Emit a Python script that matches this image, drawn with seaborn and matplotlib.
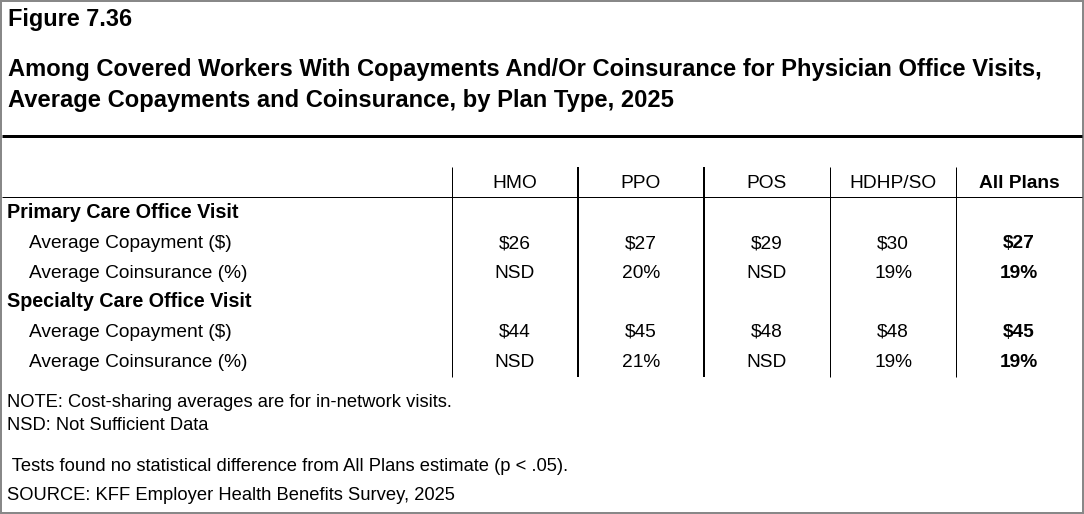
import matplotlib
matplotlib.use("Agg")
import matplotlib.pyplot as plt
from matplotlib.patches import Rectangle
import seaborn as sns
import pandas as pd

# ---- data ----
plan_types = ["HMO", "PPO", "POS", "HDHP/SO", "All Plans"]
sections = ["Primary Care Office Visit", "Specialty Care Office Visit"]
measures = ["Average Copayment ($)", "Average Coinsurance (%)"]
primary_copay = [26, 27, 29, 30, 27]
primary_coins = [None, 20, None, 19, 19]
specialty_copay = [44, 45, 48, 48, 45]
specialty_coins = [None, 21, None, 19, 19]

fig_label = "Figure 7.36"
title_lines = [
    "Among Covered Workers With Copayments And/Or Coinsurance for Physician Office Visits,",
    "Average Copayments and Coinsurance, by Plan Type, 2025",
]
notes = [
    "NOTE: Cost-sharing averages are for in-network visits.",
    "NSD: Not Sufficient Data",
    " Tests found no statistical difference from All Plans estimate (p < .05).",
    "SOURCE: KFF Employer Health Benefits Survey, 2025",
]


def fmt_copay(v):
    return "NSD" if v is None else f"${v}"


def fmt_coins(v):
    return "NSD" if v is None else f"{v}%"


rows = []
for sec, copay, coins in [(sections[0], primary_copay, primary_coins),
                          (sections[1], specialty_copay, specialty_coins)]:
    rows.append({"label": sec, "kind": "section", "vals": None})
    rows.append({"label": measures[0], "kind": "measure", "vals": [fmt_copay(v) for v in copay]})
    rows.append({"label": measures[1], "kind": "measure", "vals": [fmt_coins(v) for v in coins]})
table = pd.DataFrame(rows)

# ---- style ----
sns.set_theme(style="white")
plt.rcParams["font.family"] = ["Liberation Sans", "DejaVu Sans"]
plt.rcParams["text.color"] = "black"

W, H = 1084, 514
fig = plt.figure(figsize=(W / 100, H / 100), dpi=100)
ax = fig.add_axes([0, 0, 1, 1])
ax.set_xlim(0, W)
ax.set_ylim(H, 0)
ax.axis("off")

px = 0.72  # points per pixel at 100 dpi

# titles
ax.text(8, 26, fig_label, fontsize=16.9, fontweight="bold", va="baseline", ha="left")
ax.text(8, 76, title_lines[0], fontsize=17.1, fontweight="bold", va="baseline", ha="left")
ax.text(8, 107.3, title_lines[1], fontsize=17.1, fontweight="bold", va="baseline", ha="left")

# thick rule
ax.hlines(136, 2, 1082, color="black", lw=3 * px)

# table geometry
col_edges = [452, 578, 704, 830, 956, 1082]
col_centers = [(col_edges[i] + col_edges[i + 1]) / 2 for i in range(len(plan_types))]
header_base = 187.7
row_base = [217.7, 248.0, 278.0, 306.7, 337.0, 367.0]
body_fs = 13.8
section_fs = 14.2

for i, name in enumerate(plan_types):
    ax.text(col_centers[i], header_base, name, fontsize=body_fs, ha="center", va="baseline",
            fontweight="bold" if name == "All Plans" else "normal")

ax.hlines(197.3, 2, 1082, color="black", lw=1 * px)
vwidths = [1, 2, 2, 1, 1]
for x, w in zip(col_edges[:-1], vwidths):
    ax.vlines(x, 167.3, 377.3, color="black", lw=w * px)

for (idx, r), yb in zip(table.iterrows(), row_base):
    if r["kind"] == "section":
        ax.text(7, yb, r["label"], fontsize=section_fs, fontweight="bold", ha="left", va="baseline")
    else:
        ax.text(29.3, yb, r["label"], fontsize=body_fs, ha="left", va="baseline")
        for i, v in enumerate(r["vals"]):
            ax.text(col_centers[i], yb, v, fontsize=body_fs, ha="center", va="baseline",
                    fontweight="bold" if plan_types[i] == "All Plans" else "normal")

# notes
note_base = [406.7, 430.0, 471.0, 500.0]
for t, yb in zip(notes, note_base):
    ax.text(7, yb, t, fontsize=13.2, ha="left", va="baseline")

# outer border
ax.add_patch(Rectangle((1, 1), W - 2, H - 2, fill=False, edgecolor="#888888",
                       lw=2 * px, clip_on=False))

fig.savefig("out.png", dpi=100)
